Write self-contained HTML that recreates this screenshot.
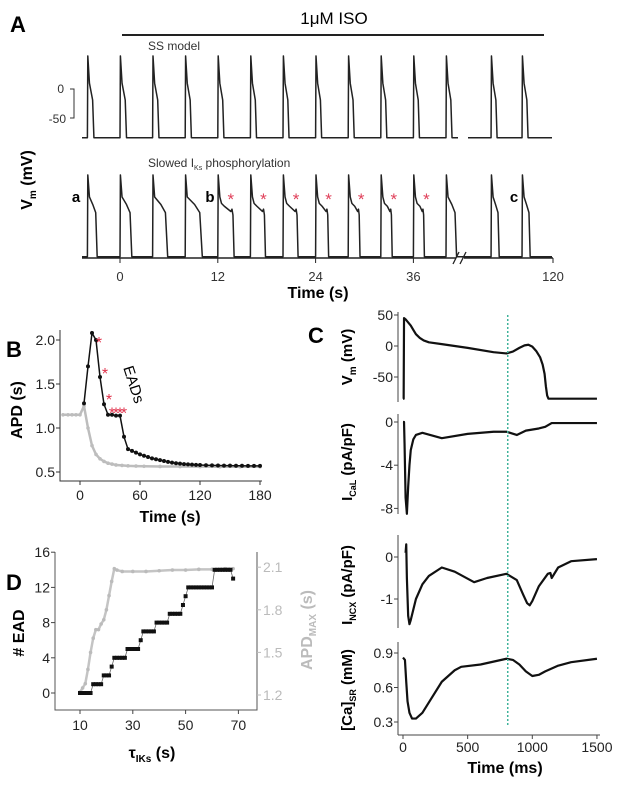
<!DOCTYPE html>
<html><head><meta charset="utf-8"><style>
html,body{margin:0;padding:0;background:#fff;}
svg{display:block;font-family:"Liberation Sans",sans-serif;}
</style></head><body>
<svg id="fig" width="624" height="788" viewBox="0 0 624 788" xmlns="http://www.w3.org/2000/svg">
<g id="pA"></g>
<g id="pB"></g>
<g id="pC"></g>
<g id="pD"></g>
</svg>
<script>
// ---------- Panel A data ----------
const beatTimes = [-4,0,4,8,12,16,20,24,28,32,36,40,112.4,116.2];
const apdTop = [0.8,0.8,0.78,0.76,0.75,0.75,0.74,0.74,0.74,0.74,0.74,0.74,0.74,0.74];
const apdBottom = [1.2,1.45,1.85,2.1,2.0,1.85,1.85,1.6,1.45,1.4,1.35,1.3,1.0,1.0];
const eadBottom = [0,0,0,0,1,1,1,1,1,1,1,0,0,0];
const aTickVals = [0,12,24,36,120];
const aTickLabels = ["0","12","24","36","120"];
// ---------- Panel B data ----------
const bBlackT = [4,8,12,16,20,24,28,32,36,40,44,48,52,56,60,64,68,72,76,80,84,88,92,96,100,104,108,112,116,120,126,132,138,144,150,156,162,168,174,180];
const bBlackV = [1.28,1.70,2.08,2.00,1.58,1.27,1.15,1.15,1.14,1.14,0.90,0.76,0.74,0.72,0.70,0.685,0.67,0.655,0.645,0.635,0.625,0.615,0.607,0.60,0.595,0.59,0.587,0.584,0.581,0.579,0.577,0.575,0.574,0.573,0.572,0.571,0.571,0.57,0.57,0.57];
const bGrayT = [-17,-12,-8,-4,0,4,8,12,16,20,24,28,32,36,42,48,56,64,80,100,120,140,160,180];
const bGrayV = [1.15,1.15,1.15,1.15,1.15,1.25,1.0,0.8,0.7,0.65,0.62,0.60,0.59,0.58,0.575,0.57,0.567,0.565,0.563,0.562,0.561,0.56,0.56,0.56];
const bStarT = [15,21,25,28,32,36,40];
const bStarV = [2.0,1.65,1.35,1.2,1.2,1.2,1.2];
const bXTicks = [0,60,120,180];
const bYTicks = [0.5,1.0,1.5,2.0];
const bYLabels = ["0.5","1.0","1.5","2.0"];
// ---------- Panel C data ----------
const cVmT = [0,5,8,20,40,60,80,100,130,160,200,300,500,700,800,850,900,940,970,1000,1030,1060,1080,1095,1105,1115,1125,1500];
const cVmV = [-85,-85,45,43,38,33,26,19,13,9,6,3,-3,-10,-12,-9,-3,1,2,-1,-8,-18,-30,-45,-65,-80,-85,-85];
const cCaLT = [0,8,12,20,30,40,50,60,80,100,150,300,500,700,800,880,950,1050,1100,1150,1500];
const cCaLV = [0,0,-2,-7,-8.5,-6,-4,-2.6,-1.6,-1.2,-1.0,-1.5,-1.1,-0.9,-0.9,-1.2,-0.8,-0.6,-0.45,-0.1,-0.1];
const cNcxT = [20,25,30,40,50,60,80,100,150,200,300,400,550,650,800,880,930,960,980,1000,1050,1120,1140,1150,1200,1300,1500];
const cNcxV = [0.1,0.3,-0.5,-1.4,-1.6,-1.5,-1.25,-1.0,-0.65,-0.45,-0.25,-0.35,-0.6,-0.5,-0.4,-0.55,-0.9,-1.1,-1.15,-1.05,-0.7,-0.4,-0.38,-0.5,-0.25,-0.1,-0.05];
const cCaT = [0,15,25,35,50,70,100,150,200,300,400,450,600,800,850,900,950,1000,1050,1100,1200,1300,1500];
const cCaV = [0.86,0.84,0.65,0.48,0.38,0.33,0.33,0.38,0.47,0.65,0.75,0.78,0.80,0.85,0.84,0.80,0.74,0.70,0.71,0.74,0.79,0.82,0.85];
const cXTicks = [0,500,1000,1500];
const cVmTicks = [50,0,-50];
const cCaLTicks = [0,-4,-8];
const cNcxTicks = [0,-1];
const cCaTicks = [0.9,0.6,0.3];
const cMarkT = 810;
// ---------- Panel D data ----------
const dTau = [10,11,12,13,14,15,16,17,18,19,20,21,22,23,24,25,26,27,28,29,30,31,32,33,34,35,36,37,38,39,40,41,42,43,44,45,46,47,48,49,50,51,52,53,54,55,56,57,58,59,60,61,62,63,64,65,66,67,68];
const dEad = [0,0,0,0,0,1,1,1,1,2,2,2,3,4,4,4,4,4,5,5,5,5,5,6,7,7,7,7,7,8,8,8,8,8,9,9,9,9,9,10,11,12,12,12,12,12,12,12,12,12,12,14,14,14,14,14,14,14,13];
const dApdTau = [10,11,12,13,14,15,16,17,18,19,20,21,22,23,24,26,30,35,40,45,50,55,60,65,68];
const dApdV = [1.22,1.25,1.28,1.38,1.5,1.6,1.66,1.66,1.70,1.73,1.80,1.90,2.0,2.09,2.08,2.07,2.07,2.07,2.075,2.08,2.08,2.085,2.085,2.09,2.09];
const dXTicks = [10,30,50,70];
const dYTicks = [0,4,8,12,16];
const dY2Ticks = [1.2,1.5,1.8,2.1];

const NS="http://www.w3.org/2000/svg";
function mk(parent,tag,attrs,text){const e=document.createElementNS(NS,tag);for(const k in attrs)e.setAttribute(k,attrs[k]);if(text!==undefined)e.textContent=text;parent.appendChild(e);return e;}
function pathFrom(pts){return pts.map((p,i)=>(i?'L':'M')+p[0].toFixed(2)+','+p[1].toFixed(2)).join(' ');}

// ---------- Panel A ----------
(function(){
const g=document.getElementById('pA');
const xA=t=> t>100 ? 553+(t-120)*8.15 : 120+t*8.15;
const yTop=v=>89-v*0.58, yBot=v=>208-v*0.58;
let e;
e=mk(g,'text',{x:10,y:32,'font-size':22,'font-weight':'bold'},'A');

e=mk(g,'text',{x:334,y:24,'font-size':17,'text-anchor':'middle'},'1μM ISO');

e=mk(g,'line',{x1:122,y1:35,x2:544,y2:35,stroke:'#222','stroke-width':2});

e=mk(g,'text',{x:148,y:50,'font-size':12,fill:'#333'},'SS model');

e=mk(g,'text',{x:148,y:167,'font-size':12,fill:'#333'});
e.innerHTML='Slowed I<tspan font-size="7" dy="3">Ks</tspan><tspan dy="-3"> phosphorylation</tspan>';

e=mk(g,'path',{d:'M70,89 L74,89 L74,118 L70,118',fill:'none',stroke:'#333','stroke-width':1});

e=mk(g,'text',{x:64,y:93,'font-size':12,'text-anchor':'end',fill:'#333'},'0');

e=mk(g,'text',{x:66,y:123,'font-size':12,'text-anchor':'end',fill:'#333'},'-50');

e=mk(g,'text',{x:0,y:0,'font-size':16,'font-weight':'bold','text-anchor':'middle',transform:'translate(32,180) rotate(-90)'});
e.innerHTML='V<tspan font-size="10" dy="4">m</tspan><tspan dy="-4"> (mV)</tspan>';

function beatPts(t0,apd,yf,ead,top){
  const pts=[[xA(t0),yf(-84)],[xA(t0)+0.4,yf(57)]];
  if(top){
    pts.push([xA(t0+0.25),yf(10)],[xA(t0+apd*0.8),yf(-19)]);
  } else if(ead){
    pts.push([xA(t0+0.25),yf(19)],[xA(t0+0.45),yf(8)],[xA(t0+0.8),yf(3)],[xA(t0+apd*0.8),yf(-6)],[xA(t0+apd*0.87),yf(-2)],[xA(t0+apd*0.93),yf(-12)]);
  } else {
    pts.push([xA(t0+0.25),yf(19)],[xA(t0+apd*0.55),yf(6)],[xA(t0+apd*0.85),yf(-8)]);
  }
  pts.push([xA(t0+apd),yf(-84)]);
  return pts;
}
function row(apds,yf,eads,name,gap,top){
  let d='';
  let seg=[[82,yf(-84)]];
  for(let i=0;i<beatTimes.length;i++){
    if(gap && beatTimes[i]>100 && beatTimes[i-1]<100){
      seg.push([458,yf(-84)]); d+=pathFrom(seg)+' '; seg=[[468,yf(-84)]];
    }
    seg=seg.concat(beatPts(beatTimes[i],apds[i],yf,eads?eads[i]:0,top));
  }
  seg.push([552,yf(-84)]);
  d+=pathFrom(seg);
  const p=mk(g,'path',{d:d,fill:'none',stroke:'#222','stroke-width':1.5,'stroke-linejoin':'round'});
  
  
}
row(apdTop,yTop,null,'ss-model-trace',true,true);
row(apdBottom,yBot,eadBottom,'slowed-iks-trace',false,false);
e=mk(g,'path',{d:'M82,258 L456,258 M464,258 L553,258',stroke:'#222','stroke-width':1.5,fill:'none'});

e=mk(g,'path',{d:'M453,264 L459,252 M460,264 L466,252',stroke:'#222','stroke-width':1.3,fill:'none'});

aTickVals.forEach((v,i)=>{
  const x=xA(v);
  const t=mk(g,'line',{x1:x,y1:258,x2:x,y2:263,stroke:'#222','stroke-width':1});
  
  const l=mk(g,'text',{x:x,y:281,'font-size':13,'text-anchor':'middle',fill:'#333'},aTickLabels[i]);
  
});
e=mk(g,'text',{x:318,y:298,'font-size':16,'font-weight':'bold','text-anchor':'middle'},'Time (s)');

[['a',76],['b',210],['c',514]].forEach(a=>{
  const l=mk(g,'text',{x:a[1],y:202,'font-size':15,'font-weight':'bold','text-anchor':'middle'},a[0]);
  
});
beatTimes.forEach((t,i)=>{
  if(eadBottom[i]){
    const s=mk(g,'text',{x:xA(t)+13,y:205,'font-size':17,fill:'#e0405a','text-anchor':'middle'},'*');
    
  }
});
})();

// ---------- Panel B ----------
(function(){
const g=document.getElementById('pB');
const xB=t=>80+t*1.0, yB=v=>428-(v-1)*88;
let e;
e=mk(g,'text',{x:6,y:357,'font-size':22,'font-weight':'bold'},'B');

e=mk(g,'path',{d:'M60,330 L60,481 L262,481',fill:'none',stroke:'#333','stroke-width':1});

bYTicks.forEach((v,i)=>{
  const y=yB(v);
  const t=mk(g,'line',{x1:56,y1:y,x2:60,y2:y,stroke:'#333'});
  
  const l=mk(g,'text',{x:55,y:y+5,'font-size':14,'text-anchor':'end',fill:'#222'},bYLabels[i]);
  
});
bXTicks.forEach(v=>{
  const x=xB(v);
  const t=mk(g,'line',{x1:x,y1:481,x2:x,y2:485,stroke:'#333'});
  
  const l=mk(g,'text',{x:x,y:500,'font-size':14,'text-anchor':'middle',fill:'#222'},String(v));
  
});
e=mk(g,'text',{x:170,y:522,'font-size':16,'font-weight':'bold','text-anchor':'middle'},'Time (s)');

e=mk(g,'text',{x:0,y:0,'font-size':16,'font-weight':'bold','text-anchor':'middle',transform:'translate(22,410) rotate(-90)'},'APD (s)');

e=mk(g,'path',{d:pathFrom(bGrayT.map((t,i)=>[xB(t),yB(bGrayV[i])])),fill:'none',stroke:'#bdbdbd','stroke-width':2.5});

bGrayT.forEach((t,i)=>{const c=mk(g,'circle',{cx:xB(t),cy:yB(bGrayV[i]),r:1.8,fill:'#bdbdbd'});
});
e=mk(g,'path',{d:pathFrom(bBlackT.map((t,i)=>[xB(t),yB(bBlackV[i])])),fill:'none',stroke:'#111','stroke-width':1.5});

bBlackT.forEach((t,i)=>{const c=mk(g,'circle',{cx:xB(t),cy:yB(bBlackV[i]),r:2,fill:'#111'});
});
bStarT.forEach((t,i)=>{const s=mk(g,'text',{x:xB(t)+4,y:yB(bStarV[i])+8,'font-size':16,fill:'#e0304a','text-anchor':'middle'},'*');
});
e=mk(g,'text',{x:0,y:0,'font-size':15,'text-anchor':'middle',transform:'translate(129,386) rotate(72)'},'EADs');

})();

// ---------- Panel C ----------
(function(){
const g=document.getElementById('pC');
const xC=t=>403+t*0.1293;
let e;
e=mk(g,'text',{x:308,y:343,'font-size':22,'font-weight':'bold'},'C');

const subs=[
 {name:'vm',T:cVmT,V:cVmV,ticks:cVmTicks,y:v=>346-v*0.62,top:312,bot:402,cy:357,label:'V<tspan font-size="10" dy="4">m</tspan><tspan dy="-4"> (mV)</tspan>'},
 {name:'ical',T:cCaLT,V:cCaLV,ticks:cCaLTicks,y:v=>422-v*10.8,top:414,bot:514,cy:462,label:'I<tspan font-size="9" dy="4">CaL</tspan><tspan dy="-4"> (pA/pF)</tspan>'},
 {name:'incx',T:cNcxT,V:cNcxV,ticks:cNcxTicks,y:v=>557-v*42,top:535,bot:628,cy:585,label:'I<tspan font-size="9" dy="4">NCX</tspan><tspan dy="-4"> (pA/pF)</tspan>'},
 {name:'casr',T:cCaT,V:cCaV,ticks:cCaTicks,y:v=>653-(v-0.9)*115,top:642,bot:735,cy:690,label:'[Ca]<tspan font-size="9" dy="4">SR</tspan><tspan dy="-4"> (mM)</tspan>'}
];
subs.forEach(s=>{
  const a=mk(g,'line',{x1:398,y1:s.top,x2:398,y2:s.bot,stroke:'#444','stroke-width':1});
  
  s.ticks.forEach(v=>{
    const y=s.y(v);
    const t=mk(g,'line',{x1:394,y1:y,x2:398,y2:y,stroke:'#444'});
    
    const l=mk(g,'text',{x:393,y:y+5,'font-size':14,'text-anchor':'end',fill:'#222'},String(v));
    
  });
  const tt=mk(g,'text',{x:0,y:0,'font-size':15,'font-weight':'bold','text-anchor':'middle',transform:'translate('+352+','+s.cy+') rotate(-90)'});
  tt.innerHTML=s.label;
  
  const p=mk(g,'path',{d:pathFrom(s.T.map((t,i)=>[xC(t),s.y(s.V[i])])),fill:'none',stroke:'#111','stroke-width':2.2,'stroke-linejoin':'round'});
  
});
e=mk(g,'line',{x1:398,y1:735,x2:600,y2:735,stroke:'#444'});

cXTicks.forEach(v=>{
  const x=xC(v);
  const t=mk(g,'line',{x1:x,y1:735,x2:x,y2:739,stroke:'#444'});
  
  const l=mk(g,'text',{x:x,y:752,'font-size':14,'text-anchor':'middle',fill:'#222'},String(v));
  
});
e=mk(g,'text',{x:505,y:773,'font-size':16,'font-weight':'bold','text-anchor':'middle'},'Time (ms)');

e=mk(g,'line',{x1:xC(cMarkT),y1:315,x2:xC(cMarkT),y2:725,stroke:'#3fb39a','stroke-width':1.5,'stroke-dasharray':'2,2'});

})();

// ---------- Panel D ----------
(function(){
const g=document.getElementById('pD');
const xD=t=>80+(t-10)*2.64, yD=v=>693-v*8.8, yD2=v=>695-(v-1.2)*142;
let e;
e=mk(g,'text',{x:6,y:590,'font-size':22,'font-weight':'bold'},'D');

e=mk(g,'path',{d:'M55,552 L55,710 L257,710 L257,552',fill:'none',stroke:'#555','stroke-width':1});

dYTicks.forEach(v=>{
  const y=yD(v);
  const t=mk(g,'line',{x1:51,y1:y,x2:55,y2:y,stroke:'#444'});
  
  const l=mk(g,'text',{x:50,y:y+5,'font-size':14,'text-anchor':'end',fill:'#222'},String(v));
  
});
dY2Ticks.forEach(v=>{
  const y=yD2(v);
  const t=mk(g,'line',{x1:257,y1:y,x2:261,y2:y,stroke:'#bbb'});
  
  const l=mk(g,'text',{x:263,y:y+5,'font-size':14,fill:'#bbb'},v.toFixed(1));
  
});
dXTicks.forEach(v=>{
  const x=xD(v);
  const t=mk(g,'line',{x1:x,y1:710,x2:x,y2:714,stroke:'#444'});
  
  const l=mk(g,'text',{x:x,y:730,'font-size':14,'text-anchor':'middle',fill:'#222'},String(v));
  
});
e=mk(g,'text',{x:152,y:758,'font-size':16,'font-weight':'bold','text-anchor':'middle'});
e.innerHTML='τ<tspan font-size="10" dy="4">IKs</tspan><tspan dy="-4"> (s)</tspan>';

e=mk(g,'text',{x:0,y:0,'font-size':16,'font-weight':'bold','text-anchor':'middle',transform:'translate(24,633) rotate(-90)'},'# EAD');

e=mk(g,'text',{x:0,y:0,'font-size':16,'font-weight':'bold','text-anchor':'middle',fill:'#bbb',transform:'translate(312,630) rotate(-90)'});
e.innerHTML='APD<tspan font-size="10" dy="4">MAX</tspan><tspan dy="-4"> (s)</tspan>';

e=mk(g,'path',{d:pathFrom(dApdTau.map((t,i)=>[xD(t),yD2(dApdV[i])])),fill:'none',stroke:'#c4c4c4','stroke-width':2.5});

dApdTau.forEach((t,i)=>{const c=mk(g,'circle',{cx:xD(t),cy:yD2(dApdV[i]),r:1.8,fill:'#bbb'});
});
e=mk(g,'path',{d:pathFrom(dTau.map((t,i)=>[xD(t),yD(dEad[i])])),fill:'none',stroke:'#666','stroke-width':0.8});

dTau.forEach((t,i)=>{const r=mk(g,'rect',{x:xD(t)-2,y:yD(dEad[i])-2,width:4,height:4,fill:'#111'});
});
})();
</script>
</body></html>
